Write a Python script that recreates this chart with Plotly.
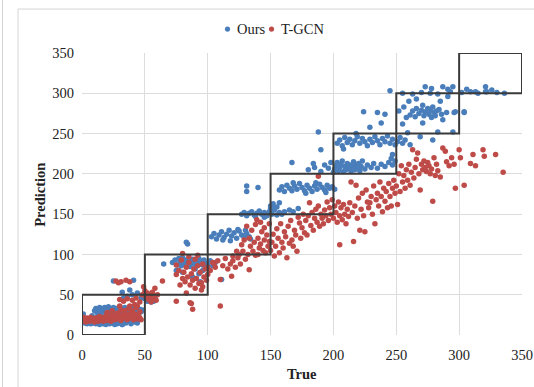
import plotly.graph_objects as go

# Ours (blue) - estimated (true, prediction) pairs
ours_true = [
    0.5,1,1,2,3,4,5,6,7,8,9,10,11,12,13,14,15,16,17,18,19,20,21,22,23,24,25,26,27,28,29,30,32,33,35,37,39,42,44,
    10,11,12,13,14,15,16,17,18,19,20,21,22,23,24,25,26,27,28,29,30,31,32,33,34,35,36,37,38,39,40,41,42,43,44,45,46,47,48,
    8,12,15,18,20,22,25,28,30,33,35,38,40,43,45,
    32,25,41,32,38,36,40,33,44,47,
    50,51,52,53,54,55,56,57,58,55,
    65,72,74,76,77,78,79,80,81,82,83,84,85,86,87,88,89,90,91,92,93,94,95,96,97,98,99,83,84,75,80,90,96,88,93,100,102,104,106,111,94,
    103,105,107,109,111,113,115,117,119,121,123,125,127,129,131,133,134,112,118,124,130,
    131,131,140,
    127,129,131,133,135,137,139,141,143,145,147,149,151,153,155,157,159,161,145,150,138,
    150,152,155,157,153,
    157,159,161,163,165,167,169,171,173,175,177,179,181,183,185,187,189,191,193,195,197,199,201,168,178,186,194,
    165,168,172,
    167,184,188,190,
    180,185,190,193,196,198,200,201,202,203,204,205,206,207,208,209,210,211,212,213,214,215,216,217,218,219,220,221,222,223,225,227,230,232,235,238,241,244,247,249,247,246,
    203,205,207,209,211,213,215,217,219,221,223,225,227,229,231,233,235,237,239,241,243,245,247,249,208,224,235,241,238,245,229,218,
    251,253,255,257,259,261,269,279,283,295,255,258,261,263,265,266,268,270,271,272,273,275,276,277,278,279,280,281,282,284,286,271,287,290,296,304,255,263,270,277,283,291,291,273,278,287,293,295,260,266,285,252,256,
    302,309,313,315,321,321,322,330,336,304,297,306,326,
]
ours_pred = [
    17,20,26,15,18,14,16,19,14,17,15,19,14,16,18,13,15,17,14,16,13,15,17,14,16,18,15,13,16,14,17,15,13,16,15,17,14,16,15,
    30,33,28,31,34,27,32,30,34,28,31,35,29,32,27,34,30,33,28,31,35,29,32,27,34,30,33,28,31,35,29,32,27,33,30,28,32,29,31,
    24,22,24,22,25,23,22,24,21,23,25,22,24,22,25,
    13,67,68,53,56,48,50,46,52,46,
    45,48,42,47,44,49,45,42,47,41,
    88,90,93,87,95,91,86,96,89,93,87,91,95,85,90,94,88,92,86,90,95,88,91,87,93,89,85,115,113,80,78,82,80,72,76,88,92,86,90,69,66,
    122,126,119,124,128,121,125,130,123,127,120,129,124,121,126,122,119,118,117,131,130,
    185,178,183,
    150,152,148,151,153,149,151,154,150,152,148,153,150,155,149,152,150,153,146,157,147,
    160,163,159,164,158,
    180,184,178,186,182,179,185,181,188,183,179,186,182,178,185,181,187,183,180,186,182,184,181,189,176,189,177,
    155,153,157,
    214,213,252,230,
    205,208,203,211,207,214,202,206,210,214,204,208,212,216,203,209,205,213,207,211,203,209,215,205,211,207,213,204,209,216,206,211,208,213,207,212,209,214,211,216,224,219,
    238,242,235,245,239,243,236,241,246,238,244,240,235,243,239,246,241,236,244,240,247,238,243,236,231,277,276,274,263,303,258,250,
    240,245,238,242,251,236,246,242,252,252,262,270,273,278,271,281,275,279,285,272,277,281,274,279,270,283,276,272,278,280,274,263,267,276,276,276,300,299,301,300,299,296,305,308,306,308,302,308,290,293,290,278,283,
    301,302,302,300,302,308,302,301,300,277,277,305,304,
]

# T-GCN (red) - estimated (true, prediction) pairs
tgcn_true = [
    0,0.5,1,2,3,4,5,6,7,8,9,10,11,12,13,14,15,16,17,18,19,20,21,22,23,24,25,26,27,28,29,30,31,32,33,34,35,36,37,38,39,40,41,42,43,44,45,46,47,
    20,24,28,31,34,37,40,43,46,30,44,
    27,29,31,35,38,30,33,36,40,43,46,38,42,
    48,49,50,51,52,53,54,55,56,57,58,59,60,
    64,75,75,75,86,88,87,83,78,80,80,81,82,83,84,85,86,87,88,89,90,91,92,93,94,95,96,96,97,98,99,77,79,85,92,95,90,100,100,
    102,104,105,106,108,110,110,112,114,116,118,119,120,122,124,125,126,128,130,131,132,133,134,136,137,138,139,140,141,142,143,144,145,146,147,148,149,135,138,142,145,149,127,129,123,120,133,140,
    150,151,152,153,154,155,156,157,158,159,160,161,162,163,164,165,166,167,168,169,170,171,172,173,174,175,176,177,178,179,180,181,182,183,184,185,186,187,188,189,190,191,192,193,194,195,196,197,198,199,188,
    200,201,202,203,204,205,205,206,207,208,209,210,211,212,213,214,215,216,217,218,219,220,221,222,223,224,225,226,227,228,229,230,231,232,233,234,235,236,237,238,239,240,241,242,243,244,245,246,247,248,249,
    250,251,252,253,254,255,256,257,258,259,260,261,262,263,264,265,266,267,268,269,270,271,272,273,274,275,276,277,278,279,280,281,282,283,285,287,289,290,292,294,296,297,
    300,301,304,309,311,313,319,320,329,335,
]
tgcn_pred = [
    17,20,22,18,16,21,19,17,22,18,20,16,21,19,17,23,19,21,17,20,24,18,22,20,17,25,21,19,23,20,26,22,18,24,21,27,23,19,25,21,28,23,19,26,22,20,24,21,19,
    28,30,27,31,30,33,30,34,29,36,36,
    67,65,66,68,66,44,42,45,43,46,41,36,38,
    50,60,55,47,52,44,49,41,53,46,58,43,50,
    67,87,75,42,40,32,39,52,62,70,101,78,66,84,72,90,62,76,68,82,94,70,86,64,78,56,60,88,72,82,68,80,93,97,99,65,58,75,84,
    80,90,89,84,92,69,36,86,95,82,88,73,92,84,96,100,88,104,94,135,100,81,110,104,115,99,143,120,108,113,128,105,118,102,124,110,116,130,137,140,133,138,112,118,104,98,120,100,
    105,115,125,98,110,132,120,102,138,115,108,128,122,96,135,114,142,118,110,130,124,104,146,139,120,133,150,127,142,124,148,164,136,152,130,145,156,140,160,135,150,145,138,155,148,165,142,158,150,168,197,
    145,160,152,140,165,112,148,158,143,162,150,138,156,147,164,190,152,116,160,186,145,170,130,156,176,148,128,180,165,158,164,172,150,185,138,168,176,160,190,172,153,182,166,178,158,188,172,160,182,192,176,
    185,162,200,178,210,190,198,182,205,192,212,186,202,230,195,208,218,226,200,180,212,205,216,208,203,214,210,200,206,166,220,198,212,204,196,232,228,215,210,220,212,182,
    230,220,186,213,224,210,230,222,224,202,
]

boxes = [0, 50, 100, 150, 200, 250, 300]
box_size = 50
tick_vals = [0, 50, 100, 150, 200, 250, 300, 350]
series_names = ["Ours", "T-GCN"]

BLUE = "#4a7ebb"
RED = "#be4b48"
FONT = "Liberation Serif"
TXT = "#222222"

W, H = 534, 387
L, R, T, B = 82, 12, 53, 51.5
PW, PH = W - L - R, H - T - B


def px2paper_x(px):
    return (px - L) / PW


def px2paper_y(py):
    return (H - B - py) / PH


fig = go.Figure()
fig.add_trace(go.Scatter(x=ours_true, y=ours_pred, mode="markers", name=series_names[0],
                         marker=dict(color=BLUE, size=5.5, line=dict(width=0))))
fig.add_trace(go.Scatter(x=tgcn_true, y=tgcn_pred, mode="markers", name=series_names[1],
                         marker=dict(color=RED, size=5.5, line=dict(width=0))))

shapes = []
for b in boxes:
    shapes.append(dict(type="rect", xref="x", yref="y", x0=b, x1=b + box_size, y0=b, y1=b + box_size,
                       line=dict(color="#3a3a3a", width=2), layer="above"))
# outer frame lines (chart border)
frame = "#d4d4d4"
shapes.append(dict(type="line", xref="paper", yref="paper", x0=px2paper_x(18), x1=px2paper_x(540),
                   y0=px2paper_y(9), y1=px2paper_y(9), line=dict(color=frame, width=1)))
shapes.append(dict(type="line", xref="paper", yref="paper", x0=px2paper_x(18), x1=px2paper_x(18),
                   y0=px2paper_y(9), y1=px2paper_y(395), line=dict(color=frame, width=1)))
shapes.append(dict(type="line", xref="paper", yref="paper", x0=px2paper_x(2.5), x1=px2paper_x(2.5),
                   y0=px2paper_y(-5), y1=px2paper_y(395), line=dict(color=frame, width=1)))
# legend markers
for cx, col in [(227.5, BLUE), (271.5, RED)]:
    shapes.append(dict(type="circle", xref="paper", yref="paper",
                       x0=px2paper_x(cx - 2.6), x1=px2paper_x(cx + 2.6),
                       y0=px2paper_y(29 + 2.6), y1=px2paper_y(29 - 2.6),
                       fillcolor=col, line=dict(width=0)))

annotations = [
    dict(text=series_names[0], xref="paper", yref="paper", x=px2paper_x(235), y=px2paper_y(29),
         xanchor="left", yanchor="middle", showarrow=False, font=dict(family=FONT, size=14.5, color=TXT)),
    dict(text=series_names[1], xref="paper", yref="paper", x=px2paper_x(279), y=px2paper_y(29),
         xanchor="left", yanchor="middle", showarrow=False, font=dict(family=FONT, size=14.5, color=TXT)),
    dict(text="<b>True</b>", xref="paper", yref="paper", x=px2paper_x(302), y=px2paper_y(375),
         xanchor="center", yanchor="middle", showarrow=False, font=dict(family=FONT, size=14.5, color=TXT)),
    dict(text="<b>Prediction</b>", xref="paper", yref="paper", x=px2paper_x(40), y=px2paper_y(195),
         xanchor="center", yanchor="middle", showarrow=False, textangle=-90,
         font=dict(family=FONT, size=14.5, color=TXT)),
]

fig.update_layout(
    width=W, height=H,
    margin=dict(l=L, r=R, t=T, b=B, autoexpand=False),
    paper_bgcolor="white", plot_bgcolor="white",
    font=dict(family=FONT, size=14, color=TXT),
    shapes=shapes,
    annotations=annotations,
    showlegend=False,
    xaxis=dict(range=[0, 350], tickvals=tick_vals, showgrid=True, gridcolor="#dcdcdc", gridwidth=1,
               zeroline=False, showline=False, ticks="outside", ticklen=7, tickcolor="rgba(0,0,0,0)",
               automargin=False, tickfont=dict(family=FONT, size=14.5, color=TXT)),
    yaxis=dict(range=[0, 350], tickvals=tick_vals, showgrid=True, gridcolor="#dcdcdc", gridwidth=1,
               zeroline=False, showline=False, ticks="outside", ticklen=4, tickcolor="rgba(0,0,0,0)",
               automargin=False, tickfont=dict(family=FONT, size=14.5, color=TXT)),
)

fig.write_html("out.html", config={"displayModeBar": False},
               post_script="document.body.style.margin='0';document.body.style.overflow='hidden';")
